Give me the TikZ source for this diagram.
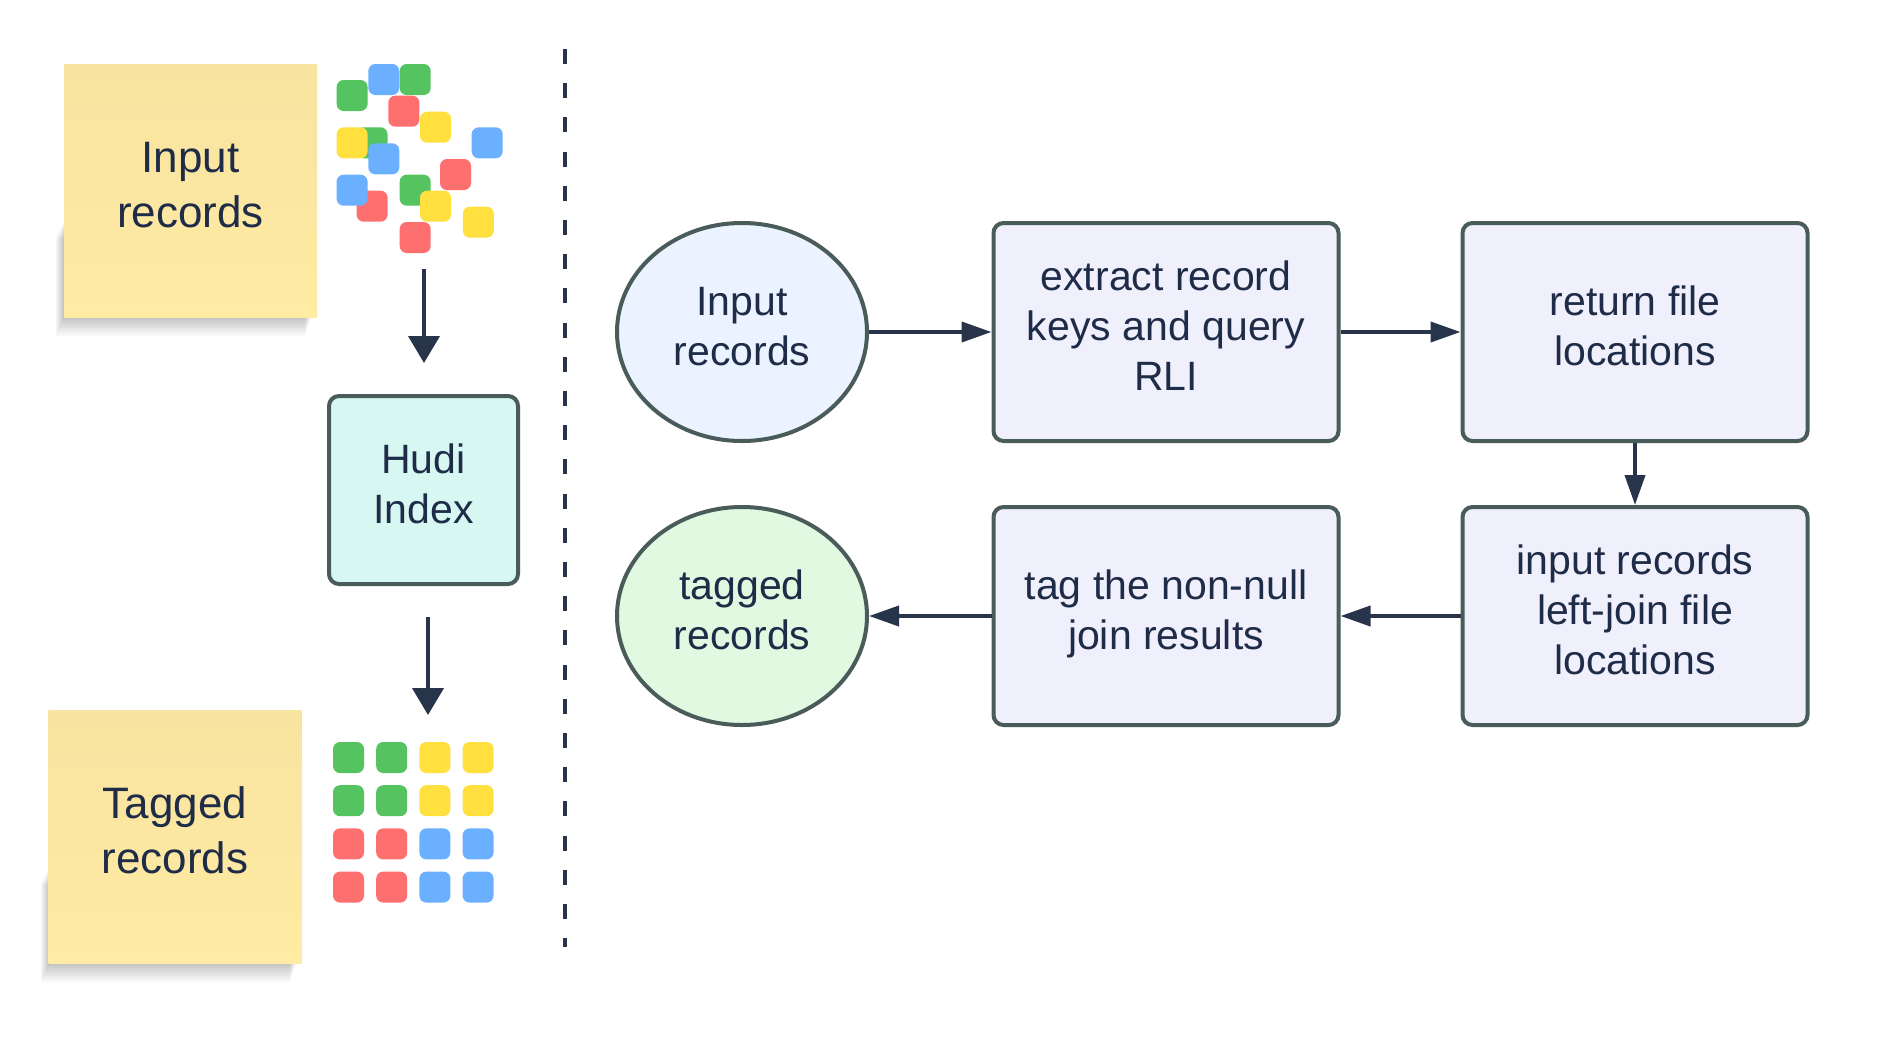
\documentclass[tikz,border=0pt]{standalone}
\usepackage{fontspec}
\setmainfont{Liberation Sans}
\usetikzlibrary{calc,arrows.meta,math,shapes.geometric}

\definecolor{ink}{HTML}{1F2C47}
\definecolor{edge}{HTML}{4A5C5A}
\definecolor{navy}{HTML}{27344A}
\definecolor{stickytop}{HTML}{F8E3A0}
\definecolor{stickybot}{HTML}{FFEBA3}
\definecolor{boxfill}{HTML}{F0F0FD}
\definecolor{infill}{HTML}{EAF3FF}
\definecolor{outfill}{HTML}{E1F8E1}
\definecolor{hudifill}{HTML}{D7F8F2}
\definecolor{recG}{HTML}{55C35F}
\definecolor{recB}{HTML}{6BB0FF}
\definecolor{recR}{HTML}{FE6F6F}
\definecolor{recY}{HTML}{FFE03F}

\tikzset{
  txt/.style={text=ink, font=\fontsize{20.5}{25}\selectfont, align=center, text depth=6pt},
  proc/.style={txt, draw=edge, line width=2pt, rounded corners=5pt, fill=boxfill,
    minimum width=172.5pt, minimum height=109pt, inner sep=0pt},
  term/.style={txt, ellipse, draw=edge, line width=2pt,
    minimum width=125pt, minimum height=109pt, inner sep=0pt},
  hudi/.style={txt, draw=edge, line width=2pt, rounded corners=5pt, fill=hudifill,
    minimum width=94.5pt, minimum height=94pt, inner sep=0pt},
  sticky/.style={text=ink, font=\fontsize{22}{27.5}\selectfont, align=center, text depth=6pt,
    top color=stickytop, bottom color=stickybot,
    minimum width=126.5pt, minimum height=126.5pt, inner sep=0pt},
  flow/.style={draw=navy, line width=2pt, -{Triangle[length=15pt,width=10pt]}},
  drop/.style={draw=navy, line width=2pt, -{Triangle[length=13.5pt,width=15.5pt]}},
}

\begin{document}
\begin{tikzpicture}[x=0.5pt,y=-0.5pt]
    \tikzmath{ \sq=31; \gap=43.2; }
    \fill[white] (0,0) rectangle (1904,1050);
    \useasboundingbox (0,0) rectangle (1904,1050);

    \foreach \s in {1,...,12} {
        \fill[black,opacity=0.018] (64-0.7*\s,220+1.5*\s) rectangle (312-0.6*\s,317+1.6*\s);
        \fill[black,opacity=0.018] (49-0.7*\s,866+1.5*\s) rectangle (297-0.6*\s,963+1.6*\s);
    }
    \node[sticky] (S1) at (190.5,190.5) {Input\\records};
    \node[sticky] (S2) at (175,836.5) {Tagged\\records};

    \foreach \x/\y/\c in {336.6/80/recG, 368.3/64/recB, 399.7/64/recG, 388.3/95.7/recR,
        420/111.7/recY, 356.6/127.3/recG, 336.6/127.3/recY, 368.3/143.3/recB,
        471.7/127.3/recB, 440/159/recR, 356.6/190.7/recR, 336.6/174.7/recB,
        399.7/174.7/recG, 420/190.7/recY, 462.8/206.7/recY, 399.7/222/recR}
        \fill[\c, rounded corners=3.5pt] (\x,\y) rectangle ++(\sq,\sq);

    \foreach \c [count=\k from 0] in {recG,recG,recY,recY,recG,recG,recY,recY,
        recR,recR,recB,recB,recR,recR,recB,recB}
        \fill[\c, rounded corners=3.5pt] ({333+mod(\k,4)*\gap},{742+floor(\k/4)*\gap}) rectangle ++(\sq,\sq);

    \node[hudi] (H) at (423.5,490) {Hudi\\Index};
    \coordinate (a1) at (424,269);
    \coordinate (a2) at (424,363);
    \coordinate (b1) at (428,617);
    \coordinate (b2) at (428,715);
    \draw[drop] (a1) -- (a2);
    \draw[drop] (b1) -- (b2);

    \coordinate (d1) at (565,49);
    \coordinate (d2) at (565,947);
    \draw[navy, line width=2pt, dash pattern=on 7.5pt off 9.6pt] (d1) -- (d2);

    \node[term, fill=infill] (A) at (742,332) {Input\\records};
    \node[proc] (B) at (1166,332) {extract record\\keys and query\\RLI};
    \node[proc] (C) at (1635,332) {return file\\locations};
    \node[proc] (D) at (1635,616) {input records\\left-join file\\locations};
    \node[proc] (E) at (1166,616) {tag the non-null\\join results};
    \node[term, fill=outfill] (F) at (742,616) {tagged\\records};
    \draw[flow] (A) -- (B);
    \draw[flow] (B) -- (C);
    \draw[flow] (C) -- (D);
    \draw[flow] (D) -- (E);
    \draw[flow] (E) -- (F);
\end{tikzpicture}
\end{document}
